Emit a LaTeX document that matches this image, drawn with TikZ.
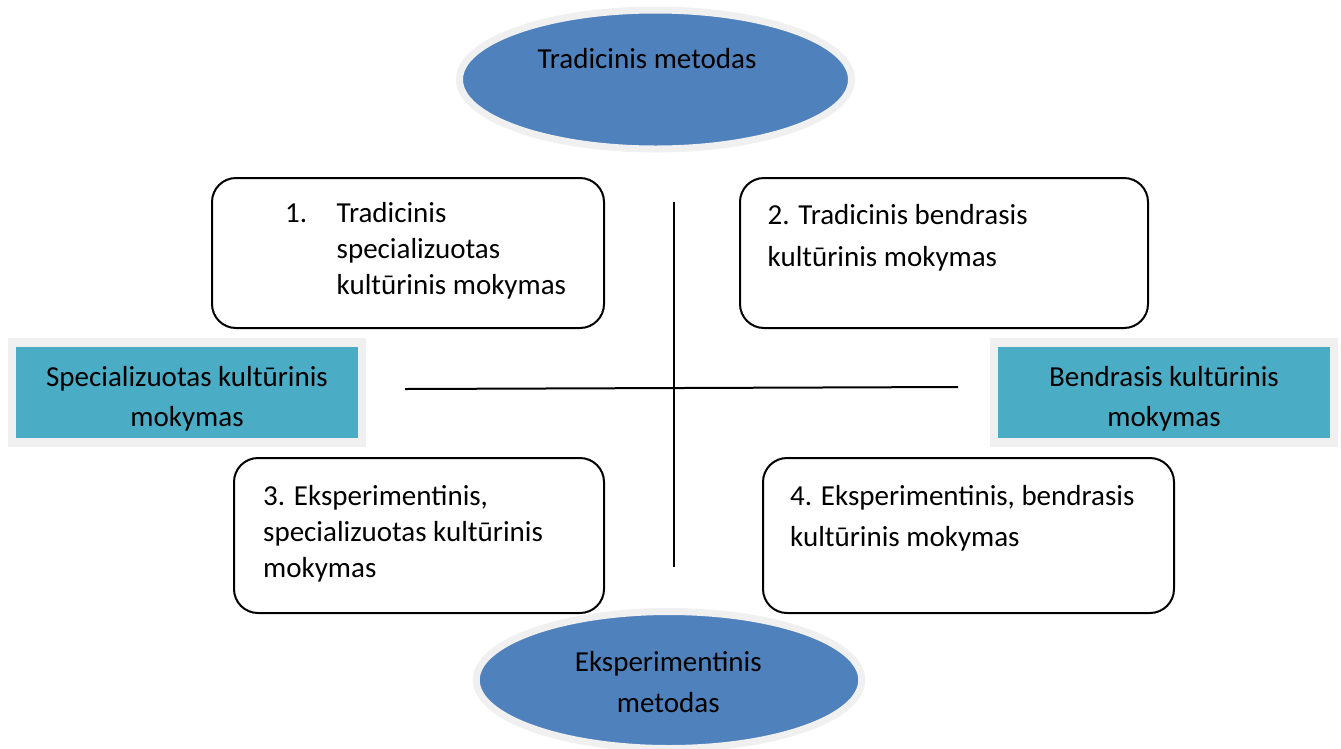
\documentclass[tikz,border=0pt]{standalone}
\usepackage{fontspec}
\setmainfont{Carlito}
\usetikzlibrary{shapes.geometric}
\definecolor{ellblue}{HTML}{4F81BD}
\definecolor{sideteal}{HTML}{4BACC6}
\definecolor{ringgrey}{HTML}{F0F0F0}
\begin{document}
\begin{tikzpicture}[x=1pt,y=-1pt,
  ell/.style={ellipse, fill=ellblue, draw=ringgrey, line width=7pt, inner sep=0pt},
  side/.style={rectangle, fill=sideteal, draw=ringgrey, line width=8.5pt, inner sep=0pt},
  qbox/.style={rectangle, rounded corners=24pt, draw=black, line width=2pt, fill=white, inner sep=0pt},
  txt/.style={inner sep=0pt, font=\fontsize{29}{36}\selectfont},
  txtw/.style={inner sep=0pt, font=\fontsize{29}{41}\selectfont},
  txtq/.style={inner sep=0pt, font=\fontsize{29}{42}\selectfont},
  axisline/.style={draw=black, line width=2pt}]
\path[use as bounding box] (0,0) rectangle (1341,748);

% ellipses
\node[ell, minimum width=392pt, minimum height=139pt] (top) at (655.5,79.5) {};
\node[txt, anchor=base] (toptext) at (647,68.5) {Tradicinis metodas};
\node[ell, minimum width=385.5pt, minimum height=137pt] (bot) at (669,680) {};
\node[txtw, anchor=base] (bottext) at (668.3,671) {\begin{tabular}[t]{@{}c@{}}Eksperimentinis\\metodas\end{tabular}};

% side boxes
\node[side, minimum width=350pt, minimum height=100pt] (spec) at (187,392.5) {};
\node[inner sep=0pt, font=\fontsize{29}{40}\selectfont, anchor=base] (spectext) at (187,386.5) {\begin{tabular}[t]{@{}c@{}}Specializuotas kultūrinis\\mokymas\end{tabular}};
\node[side, minimum width=340pt, minimum height=100pt] (bend) at (1164,392.5) {};
\node[inner sep=0pt, font=\fontsize{29}{40}\selectfont, anchor=base] (bendtext) at (1164,386.5) {\begin{tabular}[t]{@{}c@{}}Bendrasis kultūrinis\\mokymas\end{tabular}};

% quadrant boxes
\node[qbox, minimum width=392pt, minimum height=150pt] (q1) at (408,253) {};
\node[txt, anchor=base west] (q1text) at (285,222) {\begin{tabular}[t]{@{}l@{}l@{}}\makebox[51.5pt][l]{1.}&Tradicinis\\&specializuotas\\&kultūrinis mokymas\end{tabular}};
\node[qbox, minimum width=408pt, minimum height=150pt] (q2) at (944,253) {};
\node[txtq, anchor=base west] (q2text) at (767.5,224) {\begin{tabular}[t]{@{}l@{}}2. Tradicinis bendrasis\\kultūrinis mokymas\end{tabular}};
\node[qbox, minimum width=370pt, minimum height=155pt] (q3) at (419,535.5) {};
\node[txt, anchor=base west] (q3text) at (263,505) {\begin{tabular}[t]{@{}l@{}}3. Eksperimentinis,\\specializuotas kultūrinis\\mokymas\end{tabular}};
\node[qbox, minimum width=411pt, minimum height=155pt] (q4) at (968.5,535.5) {};
\node[txtw, anchor=base west] (q4text) at (790,505) {\begin{tabular}[t]{@{}l@{}}4. Eksperimentinis, bendrasis\\kultūrinis mokymas\end{tabular}};

% axes
\coordinate (hl) at (405,389);
\coordinate (hr) at (958,387);
\coordinate (vt) at (674,202);
\coordinate (vb) at (674,567);
\draw[axisline] (hl) -- (hr);
\draw[axisline] (vt) -- (vb);
\end{tikzpicture}
\end{document}
